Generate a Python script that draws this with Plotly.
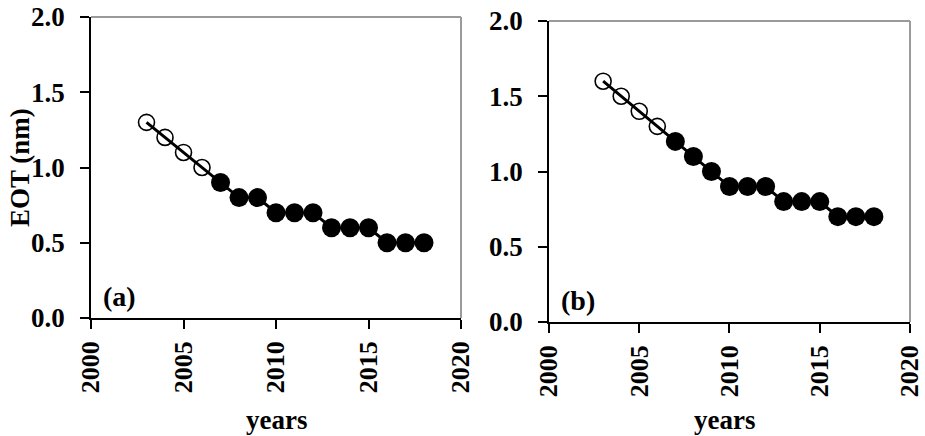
import plotly.graph_objects as go

# Equivalent oxide thickness roadmap values per year
years = [2003, 2004, 2005, 2006, 2007, 2008, 2009, 2010,
         2011, 2012, 2013, 2014, 2015, 2016, 2017, 2018]
eot_a = [1.3, 1.2, 1.1, 1.0, 0.9, 0.8, 0.8, 0.7,
         0.7, 0.7, 0.6, 0.6, 0.6, 0.5, 0.5, 0.5]
eot_b = [1.6, 1.5, 1.4, 1.3, 1.2, 1.1, 1.0, 0.9,
         0.9, 0.9, 0.8, 0.8, 0.8, 0.7, 0.7, 0.7]
# first four years drawn as open circles
n_open = 4

x_ticks = [2000, 2005, 2010, 2015, 2020]
y_ticks = [0.0, 0.5, 1.0, 1.5, 2.0]
y_ticktext = ["0.0", "0.5", "1.0", "1.5", "2.0"]
panel_labels = ["(a)", "(b)"]
x_title = "years"
y_title = "EOT (nm)"

FONT = "Liberation Serif, Times New Roman, serif"

fig = go.Figure()

panels = [
    (eot_a, "x", "y"),
    (eot_b, "x2", "y2"),
]
for vals, xa, ya in panels:
    fig.add_trace(go.Scatter(
        x=years, y=vals, mode="lines", xaxis=xa, yaxis=ya,
        line=dict(color="black", width=3), showlegend=False, hoverinfo="skip"))
    fig.add_trace(go.Scatter(
        x=years[:n_open], y=vals[:n_open], mode="markers", xaxis=xa, yaxis=ya,
        marker=dict(symbol="circle-open", size=16, color="black",
                    line=dict(width=1.6, color="black")),
        showlegend=False))
    fig.add_trace(go.Scatter(
        x=years[n_open:], y=vals[n_open:], mode="markers", xaxis=xa, yaxis=ya,
        marker=dict(symbol="circle", size=19, color="black"),
        showlegend=False))

xaxis_style = dict(
    range=[2000, 2020], tickvals=x_ticks, tickangle=-90, automargin=False,
    ticks="outside", ticklen=9, tickwidth=1.5, tickcolor="black",
    showline=True, linecolor="black", linewidth=1.5,
    showgrid=False, zeroline=False, ticklabelstandoff=2,
    ticklabeloverflow="allow",
    tickfont=dict(family=FONT, size=26, color="black", weight="bold"),
)
yaxis_style = dict(
    range=[0, 2.0], tickvals=y_ticks, ticktext=y_ticktext, automargin=False,
    ticks="outside", ticklen=9, tickwidth=1.5, tickcolor="black",
    showline=True, linecolor="black", linewidth=1.5,
    showgrid=False, zeroline=False, ticklabelstandoff=10,
    ticklabeloverflow="allow",
    tickfont=dict(family=FONT, size=27, color="black", weight="bold"),
)

fig.update_layout(
    width=925, height=436,
    template="none",
    margin=dict(l=0, r=0, t=0, b=0),
    paper_bgcolor="white", plot_bgcolor="white",
    xaxis=dict(domain=[0.0984, 0.4984], anchor="y", **xaxis_style),
    yaxis=dict(domain=[0.2706, 0.961], anchor="x", **yaxis_style),
    xaxis2=dict(domain=[0.5935, 0.9838], anchor="y2", **xaxis_style),
    yaxis2=dict(domain=[0.2615, 0.9518], anchor="x2", **yaxis_style),
)

# gray top/right frame of each plot area
for xr, yr in [("x domain", "y domain"), ("x2 domain", "y2 domain")]:
    fig.add_shape(type="line", xref=xr, yref=yr, x0=0, x1=1, y0=1, y1=1,
                  line=dict(color="#9a9a9a", width=2))
    fig.add_shape(type="line", xref=xr, yref=yr, x0=1, x1=1, y0=0, y1=1,
                  line=dict(color="#9a9a9a", width=2))

# panel letters
for label, xr, yr in [(panel_labels[0], "x domain", "y domain"),
                      (panel_labels[1], "x2 domain", "y2 domain")]:
    fig.add_annotation(text="<b>" + label + "</b>", xref=xr, yref=yr,
                       x=0.028, y=0.07, xanchor="left", yanchor="middle",
                       showarrow=False,
                       font=dict(family=FONT, size=28, color="black"))

# axis titles
for cx in (276 / 925, 724 / 925):
    fig.add_annotation(text="<b>" + x_title + "</b>", xref="paper", yref="paper",
                       x=cx, y=0, xanchor="center", yanchor="bottom",
                       borderpad=0, showarrow=False,
                       font=dict(family=FONT, size=27, color="black"))
fig.add_annotation(text="<b>" + y_title + "</b>", xref="paper", yref="paper",
                   x=20 / 925, y=1 - 168 / 436, xanchor="center", yanchor="middle",
                   textangle=-90, showarrow=False,
                   font=dict(family=FONT, size=27, color="black"))

fig.write_html("out.html")
